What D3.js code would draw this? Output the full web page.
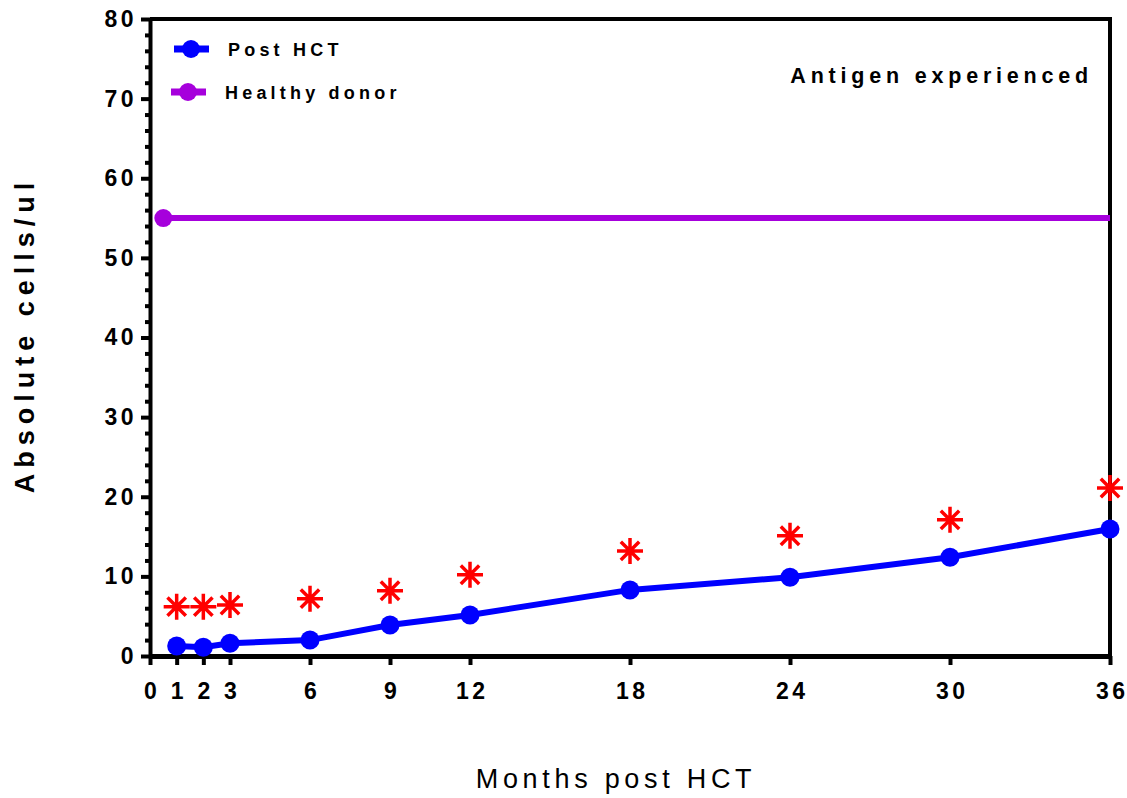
<!DOCTYPE html>
<html>
  <head>
    <title>Antigen experienced</title>
    <script src="https://cdn.jsdelivr.net/npm/d3@7"></script>
    <style>
      body { margin: 0; background: #fff; }
      text { font-family: "Liberation Sans", Arial, sans-serif; }
    </style>
  </head>
  <body>
    <svg width="1127" height="798" id="mainsvg"></svg>
    <script>
        // data
        const months = [1, 2, 3, 6, 9, 12, 18, 24, 30, 36];
        const postHCT = [1.25, 1.1, 1.6, 2.0, 3.9, 5.15, 8.3, 9.9, 12.4, 15.95];
        const asterisks = [6.2, 6.2, 6.4, 7.2, 8.2, 10.2, 13.2, 15.1, 17.1, 21.1];
        const donorMonths = [0.5, 36];
        const donorValues = [55, 55];
        const xTicks = [0, 1, 2, 3, 6, 9, 12, 18, 24, 30, 36];
        const yTicks = [0, 10, 20, 30, 40, 50, 60, 70, 80];

        const svg = d3.select('#mainsvg');
        const margin = {top: 19, right: 17, bottom: 142, left: 150};
        const width = +svg.attr('width');
        const height = +svg.attr('height');
        const innerWidth = width - margin.left - margin.right;
        const innerHeight = height - margin.top - margin.bottom;

        const xScale = d3.scaleLinear().domain([0, 36]).range([0, innerWidth]);
        const yScale = d3.scaleLinear().domain([0, 80]).range([innerHeight, 0]);

        const g = svg.append('g')
          .attr('transform', `translate(${margin.left}, ${margin.top})`);

        // frame top + right
        g.append('path')
          .attr('d', `M0,0 H${innerWidth} V${innerHeight}`)
          .attr('fill', 'none').attr('stroke', 'black').attr('stroke-width', 4);

        // minor y ticks
        const minor = d3.range(0, 81, 2).filter(v => v % 10 !== 0);
        g.append('g').attr('class', 'minor')
          .call(d3.axisLeft(yScale).tickValues(minor).tickSize(5).tickFormat(''))
          .call(a => a.select('.domain').remove())
          .selectAll('line').attr('stroke-width', 4);

        const yAxis = g.append('g')
          .call(d3.axisLeft(yScale).tickValues(yTicks).tickSize(9).tickPadding(4).tickSizeOuter(0));
        yAxis.select('.domain').attr('stroke-width', 4);
        yAxis.selectAll('.tick line').attr('stroke-width', 4);
        yAxis.selectAll('.tick text')
          .attr('font-size', '23px').attr('font-weight', 'bold')
          .attr('letter-spacing', '3.5px').attr('fill', 'black');

        const xAxis = g.append('g').attr('transform', `translate(0, ${innerHeight})`)
          .call(d3.axisBottom(xScale).tickValues(xTicks).tickSize(9).tickPadding(18).tickSizeOuter(0));
        xAxis.select('.domain').attr('stroke-width', 5);
        xAxis.selectAll('.tick line').attr('stroke-width', 4);
        xAxis.selectAll('.tick text')
          .attr('font-size', '23px').attr('font-weight', 'bold')
          .attr('letter-spacing', '3.5px').attr('fill', 'black')
          .attr('dx', '1.75px');

        // healthy donor line
        const line = d3.line().x(d => xScale(d[0])).y(d => yScale(d[1]));
        const donor = donorMonths.map((m, i) => [m, donorValues[i]]);
        g.append('path').datum(donor)
          .attr('d', line).attr('fill', 'none')
          .attr('stroke', '#a600dc').attr('stroke-width', 6);
        g.append('circle')
          .attr('cx', xScale(donor[0][0])).attr('cy', yScale(donor[0][1]))
          .attr('r', 9).attr('fill', '#a600dc');

        // post HCT
        const post = months.map((m, i) => [m, postHCT[i]]);
        g.append('path').datum(post)
          .attr('d', line).attr('fill', 'none')
          .attr('stroke', '#0000ff').attr('stroke-width', 6);
        g.selectAll('.pt').data(post).join('circle')
          .attr('cx', d => xScale(d[0])).attr('cy', d => yScale(d[1]))
          .attr('r', 9.5).attr('fill', '#0000ff');

        // asterisks
        const r = 13;
        const starPath = [0, 45, 90, 135].map(a => {
          const dx = r * Math.cos(a * Math.PI / 180), dy = r * Math.sin(a * Math.PI / 180);
          return `M${-dx},${-dy}L${dx},${dy}`;
        }).join('');
        g.selectAll('.star').data(months.map((m, i) => [m, asterisks[i]])).join('path')
          .attr('transform', d => `translate(${xScale(d[0])}, ${yScale(d[1])})`)
          .attr('d', starPath).attr('stroke', '#ff0000').attr('stroke-width', 3.5);

        // legend
        const legend = [{name: 'Post HCT', color: '#0000ff', x: 24, y: 30},
                        {name: 'Healthy donor', color: '#a600dc', x: 21, y: 73}];
        legend.forEach(l => {
          g.append('line').attr('x1', l.x).attr('x2', l.x + 35)
            .attr('y1', l.y).attr('y2', l.y)
            .attr('stroke', l.color).attr('stroke-width', 7);
          g.append('circle').attr('cx', l.x + 17).attr('cy', l.y).attr('r', 9).attr('fill', l.color);
          g.append('text').text(l.name)
            .attr('x', l.x + 54).attr('y', l.y + 6.5)
            .attr('font-size', '18px').attr('font-weight', 'bold')
            .attr('letter-spacing', '4.2px');
        });

        g.append('text').text('Antigen experienced')
          .attr('x', 943).attr('y', 64)
          .attr('text-anchor', 'end')
          .attr('font-size', '21.5px').attr('font-weight', 'bold')
          .attr('letter-spacing', '4.8px');

        // axis titles
        svg.append('text').text('Absolute cells/ul')
          .attr('transform', 'translate(34, 335) rotate(-90)')
          .attr('text-anchor', 'middle')
          .attr('font-size', '27px').attr('font-weight', 'bold')
          .attr('letter-spacing', '6px');

        svg.append('text').text('Months post HCT')
          .attr('x', 616).attr('y', 788)
          .attr('text-anchor', 'middle')
          .attr('font-size', '27px')
          .attr('letter-spacing', '4.7px');
    </script>
  </body>
</html>
